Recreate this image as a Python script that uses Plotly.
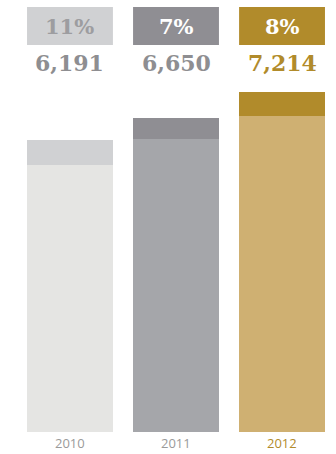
import plotly.graph_objects as go

years = ["2010", "2011", "2012"]
totals = [6191, 6650, 7214]
bases = [5660, 6205, 6690]
growth = ["11%", "7%", "8%"]

base_colors = ["#e5e5e3", "#a5a6aa", "#cfb072"]
top_colors = ["#d0d1d3", "#8f8e93", "#b18b2b"]
pct_text_colors = ["#9d9da0", "#ffffff", "#ffffff"]
value_colors = ["#8e8e91", "#8e8e91", "#b18b2b"]
year_colors = ["#9a9a9a", "#9a9a9a", "#b18b2b"]

xs = list(range(len(years)))
tops = [t - b for t, b in zip(totals, bases)]
W = 0.81

fig = go.Figure()
fig.add_bar(x=xs, y=bases, marker=dict(color=base_colors, line=dict(width=0)), width=W, hoverinfo="skip")
fig.add_bar(x=xs, y=tops, marker=dict(color=top_colors, line=dict(width=0)), width=W, hoverinfo="skip")

shapes = []
annotations = []
serif = "DejaVu Serif"
for i in xs:
    shapes.append(dict(type="rect", xref="x", yref="paper", x0=i - W / 2, x1=i + W / 2,
                       y0=1 - 45 / 454, y1=1 - 7 / 454, fillcolor=top_colors[i], line=dict(width=0), layer="above"))
    annotations.append(dict(x=i, y=1 - 26 / 454, xref="x", yref="paper", text="<b>%s</b>" % growth[i],
                            showarrow=False, font=dict(family=serif, size=21, color=pct_text_colors[i]),
                            xanchor="center", yanchor="middle"))
    annotations.append(dict(x=i, y=1 - 63 / 454, xref="x", yref="paper", text="<b>{:,}</b>".format(totals[i]),
                            showarrow=False, font=dict(family=serif, size=22, color=value_colors[i]),
                            xanchor="center", yanchor="middle"))
    annotations.append(dict(x=i, y=0, xref="x", yref="paper", text=years[i],
                            showarrow=False, font=dict(family="Open Sans", size=13, color=year_colors[i]),
                            xanchor="center", yanchor="bottom"))

fig.update_layout(
    barmode="stack",
    width=336, height=454,
    margin=dict(l=0, r=0, t=0, b=0),
    paper_bgcolor="white", plot_bgcolor="white",
    showlegend=False,
    xaxis=dict(range=[-0.66, 2.509], visible=False, fixedrange=True),
    yaxis=dict(range=[-466, 9153], visible=False, fixedrange=True),
    shapes=shapes, annotations=annotations,
)

fig.write_html("out.html", config={"displayModeBar": False})
